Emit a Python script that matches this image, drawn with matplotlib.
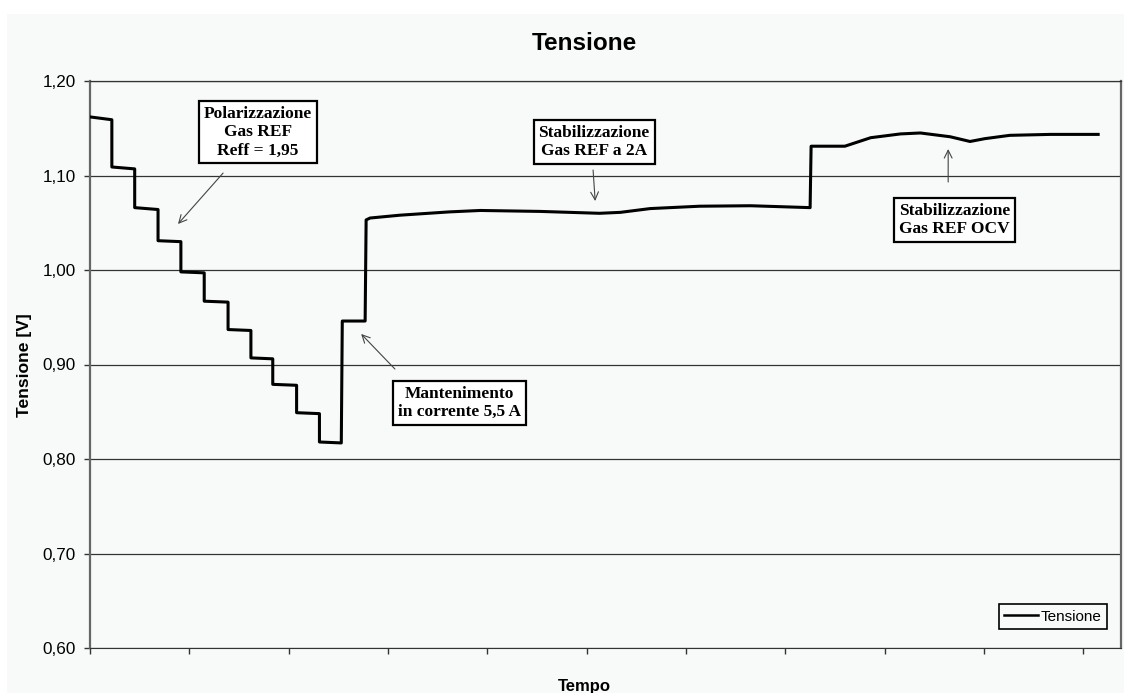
import matplotlib.pyplot as plt
from matplotlib.patches import Rectangle

# tempo (indice campione) e tensione [V]
tempo = [0, 22, 22, 45, 45, 68.5, 68.5, 91.5, 91.5, 115, 115, 139, 139, 162,
         162, 184, 184, 208, 208, 231, 231, 253, 254, 277, 278,
         282, 312, 362, 393, 453, 513, 534, 564, 614, 665, 725,
         726, 760, 786, 816, 836, 866, 886, 901, 926, 967, 1015]
tensione = [1.162, 1.159, 1.109, 1.107, 1.066, 1.064, 1.031, 1.030, 0.998, 0.997,
            0.967, 0.966, 0.937, 0.936, 0.907, 0.906, 0.879, 0.878, 0.849, 0.848,
            0.818, 0.817, 0.946, 0.946, 1.053,
            1.055, 1.058, 1.0615, 1.063, 1.062, 1.060, 1.061, 1.065, 1.0675, 1.068, 1.066,
            1.131, 1.131, 1.140, 1.144, 1.145, 1.141, 1.136, 1.139, 1.1425, 1.1435, 1.1435]

y_ticks = [0.60, 0.70, 0.80, 0.90, 1.00, 1.10, 1.20]
y_labels = ['0,60', '0,70', '0,80', '0,90', '1,00', '1,10', '1,20']
x_ticks = [0, 100, 200, 300, 400, 500, 600, 700, 800, 900, 1000]

# note: testo, posizione del box, coda e punta della freccia
note = [
    ('Polarizzazione\nGas REF\nReff = 1,95', (169, 1.146), (134, 1.1026), (88.6, 1.0487), 'center'),
    ('Mantenimento\nin corrente 5,5 A', (372, 0.8593), (307, 0.8952), (273, 0.9323), 'center'),
    ('Stabilizzazione\nGas REF a 2A', (507.5, 1.1354), (506.5, 1.1058), (508.6, 1.073), 'center'),
    ('Stabilizzazione\nGas REF OCV', (870.6, 1.0529), (864, 1.0931), (864, 1.128), 'left'),
]

bg = '#f8f9f9'
fig = plt.figure(figsize=(11.24, 6.93), dpi=100)
fig.patch.set_facecolor('white')
fig.patches.append(Rectangle((7 / 1124, 0), 1, 1 - 14 / 693, transform=fig.transFigure,
                             facecolor=bg, edgecolor='none', zorder=-10))
ax = fig.add_axes([90 / 1124, 1 - 648 / 693, (1121 - 90) / 1124, (648 - 81) / 693])
ax.set_facecolor(bg)

ax.plot(tempo, tensione, color='black', linewidth=2.2, label='Tensione', zorder=3)

ax.set_xlim(0, 1038)
ax.set_ylim(0.60, 1.20)
ax.set_yticks(y_ticks)
ax.set_yticklabels(y_labels, fontsize=12.3, family='Liberation Sans')
ax.set_xticks(x_ticks)
ax.set_xticklabels([])
ax.tick_params(axis='both', direction='out', length=4, width=1, color='#333333', pad=6)
ax.yaxis.grid(True, color='#333333', linewidth=0.9)
ax.set_axisbelow(True)
for s in ['left', 'right']:
    ax.spines[s].set_color('#666666')
    ax.spines[s].set_linewidth(1.6)
ax.spines['bottom'].set_color('#333333')
ax.spines['top'].set_color('#333333')
ax.spines['top'].set_linewidth(0.9)

fig.text(584 / 1124, 1 - 43 / 693, 'Tensione', fontsize=17.5, fontweight='bold',
         family='Liberation Sans', ha='center', va='center')
fig.text(25 / 1124, 1 - 365 / 693, 'Tensione [V]', fontsize=12.6, fontweight='bold',
         family='Liberation Sans', ha='center', va='center', rotation=90)
fig.text(584 / 1124, 1 - 686 / 693, 'Tempo', fontsize=12, fontweight='bold',
         family='Liberation Sans', ha='center', va='center')

for testo, pos, coda, punta, allin in note:
    ax.annotate('', xy=punta, xytext=coda,
                arrowprops=dict(arrowstyle='->', color='#444444', lw=0.8,
                                shrinkA=0, shrinkB=0, mutation_scale=14))
    ax.text(pos[0], pos[1], testo, ha='center', va='center', multialignment=allin,
            fontsize=12.5, fontweight='bold', family='Liberation Serif',
            bbox=dict(boxstyle='square,pad=0.28', facecolor='white', edgecolor='black', linewidth=1.6),
            zorder=5)

leg = ax.legend(loc='lower right', bbox_to_anchor=(0.9864, 0.0335), borderaxespad=0,
                prop={'family': 'Liberation Sans', 'size': 11}, fancybox=False,
                framealpha=1, facecolor=bg, edgecolor='black', handlelength=2.2,
                handletextpad=0.2, borderpad=0.35)
leg.get_frame().set_linewidth(1.2)
leg.get_lines()[0].set_linewidth(1.8)

plt.savefig('out.png', dpi=100)
